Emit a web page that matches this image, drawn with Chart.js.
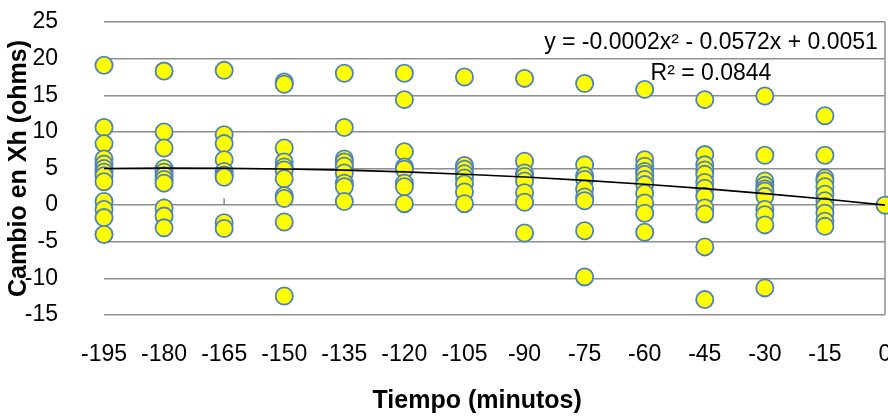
<!DOCTYPE html>
<html>
<head>
<meta charset="utf-8">
<script src="https://cdn.jsdelivr.net/npm/chart.js@4.4.1/dist/chart.umd.min.js"></script>
<style>
  html, body { margin: 0; padding: 0; background: #ffffff; }
  #wrap { width: 888px; height: 419px; }
</style>
</head>
<body>
<div id="wrap"><canvas id="c" width="888" height="419"></canvas></div>
<script>
// ---- data ----
const tiempos = [-195, -180, -165, -150, -135, -120, -105, -90, -75, -60, -45, -30, -15, 0];
const yTicks = [-15, -10, -5, 0, 5, 10, 15, 20, 25];

const cambio_m195 = [19.1, 10.6, 8.4, 6.3, 5.6, 5.0, 4.5, 4.0, 3.2, 0.5, -0.6, -1.7, -4.0];
const cambio_m180 = [18.3, 10.0, 7.8, 5.0, 4.5, 4.0, 3.5, 3.0, -0.4, -1.5, -3.1];
const cambio_m165 = [18.4, 9.6, 8.4, 6.2, 4.6, 4.1, 3.8, -2.4, -3.2];
const cambio_m150 = [16.8, 16.5, 7.8, 5.9, 5.2, 4.8, 3.6, 1.3, 0.9, -2.3, -12.4];
const cambio_m135 = [18.0, 10.6, 6.3, 5.9, 5.3, 4.4, 3.0, 2.5, 0.5];
const cambio_m120 = [18.0, 14.4, 7.3, 5.2, 4.9, 3.0, 2.5, 0.2];
const cambio_m105 = [17.5, 5.4, 4.9, 4.3, 3.7, 2.9, 1.8, 0.2];
const cambio_m90  = [17.3, 6.0, 4.4, 3.9, 3.3, 1.7, 0.4, -3.8];
const cambio_m75  = [16.6, 5.5, 4.0, 3.5, 2.2, 1.1, 0.6, -3.5, -9.8];
const cambio_m60  = [15.8, 6.2, 5.3, 4.6, 4.2, 3.5, 2.8, 1.6, 0.3, -1.1, -3.7];
const cambio_m45  = [14.4, 6.9, 5.5, 4.8, 4.2, 3.1, 2.3, 1.2, -0.4, -1.2, -5.7, -12.9];
const cambio_m30  = [14.9, 6.8, 3.3, 2.7, 2.2, 1.9, 1.2, -0.6, -1.3, -2.7, -11.3];
const cambio_m15  = [12.2, 6.8, 3.7, 3.3, 2.5, 1.5, 0.6, -0.2, -1.1, -2.2, -2.9];
const cambio_0    = [0];

const columnas = [cambio_m195, cambio_m180, cambio_m165, cambio_m150, cambio_m135, cambio_m120,
                  cambio_m105, cambio_m90, cambio_m75, cambio_m60, cambio_m45, cambio_m30, cambio_m15, cambio_0];

// polynomial trendline coefficients (a, b, c) for y = a x^2 + b x + c
const trendCoef = [-0.000162, -0.0572, 0.0051];
const trendText = ['y = -0.0002x\u00B2 - 0.0572x + 0.0051', 'R\u00B2 = 0.0844'];

// ---- build library structures ----
const puntos = [];
columnas.forEach((col, i) => col.forEach(v => puntos.push({ x: tiempos[i], y: v })));
const tendencia = tiempos.map(t => ({ x: t, y: trendCoef[0] * t * t + trendCoef[1] * t + trendCoef[2] }));

const FONT = "'Liberation Sans', Arial, sans-serif";
const GRID = '#8e8e8e';

const decor = {
  id: 'decor',
  beforeDatasetsDraw(chart) {
    const { ctx, chartArea: a, scales: { x, y } } = chart;
    ctx.save();
    ctx.strokeStyle = GRID;
    ctx.lineWidth = 1.5;
    ctx.beginPath();
    ctx.moveTo(a.right, a.top);
    ctx.lineTo(a.right, a.bottom);
    const y0 = y.getPixelForValue(0);
    tiempos.forEach(t => {
      const px = x.getPixelForValue(t);
      ctx.moveTo(px, y0);
      ctx.lineTo(px, y0 - 7);
    });
    ctx.stroke();
    ctx.restore();
  },
  afterDatasetsDraw(chart) {
    const { ctx } = chart;
    ctx.save();
    ctx.font = '23px ' + FONT;
    ctx.fillStyle = '#000000';
    ctx.textAlign = 'center';
    ctx.textBaseline = 'middle';
    ctx.fillText(trendText[0], 711, 43);
    ctx.fillText(trendText[1], 711, 74);
    ctx.restore();
  }
};

new Chart(document.getElementById('c'), {
  type: 'scatter',
  data: {
    datasets: [
      {
        type: 'line',
        label: 'Tendencia',
        data: tendencia,
        borderColor: '#000000',
        borderWidth: 1.6,
        pointRadius: 0,
        fill: false,
        tension: 0,
        order: 0
      },
      {
        label: 'Cambio en Xh',
        data: puntos,
        showLine: false,
        pointRadius: 8.6,
        pointHoverRadius: 8.6,
        pointBackgroundColor: '#FFFF00',
        pointBorderColor: '#4F81BD',
        pointBorderWidth: 1.8,
        clip: false,
        order: 1
      }
    ]
  },
  options: {
    responsive: false,
    animation: false,
    events: [],
    layout: { autoPadding: false, padding: { left: 0, right: 3, top: 22, bottom: 0 } },
    plugins: { legend: { display: false }, tooltip: { enabled: false } },
    scales: {
      x: {
        type: 'linear',
        min: tiempos[0],
        max: tiempos[tiempos.length - 1],
        afterBuildTicks: s => { s.ticks = tiempos.map(v => ({ value: v })); },
        afterFit: s => { s.height = 104; s.paddingLeft = 0; s.paddingRight = 0; },
        grid: { display: false, drawTicks: false },
        border: { display: false },
        ticks: {
          padding: 26,
          color: '#000000',
          font: { family: FONT, size: 23 },
          maxRotation: 0,
          autoSkip: false,
          callback: v => String(v)
        },
        title: {
          display: true,
          text: 'Tiempo (minutos)\u00A0\u00A0\u00A0\u00A0\u00A0',
          color: '#000000',
          font: { family: FONT, size: 25, weight: 'bold' },
          padding: { top: 0, bottom: 3 }
        }
      },
      y: {
        min: yTicks[0],
        max: yTicks[yTicks.length - 1],
        afterBuildTicks: s => { s.ticks = yTicks.map(v => ({ value: v })); },
        afterFit: s => { s.width = 104; s.paddingTop = 0; s.paddingBottom = 0; },
        grid: { color: GRID, lineWidth: 1.5, drawTicks: false },
        border: { display: false },
        ticks: {
          padding: 46,
          color: '#000000',
          font: { family: FONT, size: 23 },
          callback: v => String(v)
        },
        title: {
          display: true,
          text: 'Cambio en Xh (ohms)',
          color: '#000000',
          font: { family: FONT, size: 25, weight: 'bold' },
          padding: { top: 4, bottom: 0 }
        }
      }
    }
  },
  plugins: [decor]
});
</script>
</body>
</html>
